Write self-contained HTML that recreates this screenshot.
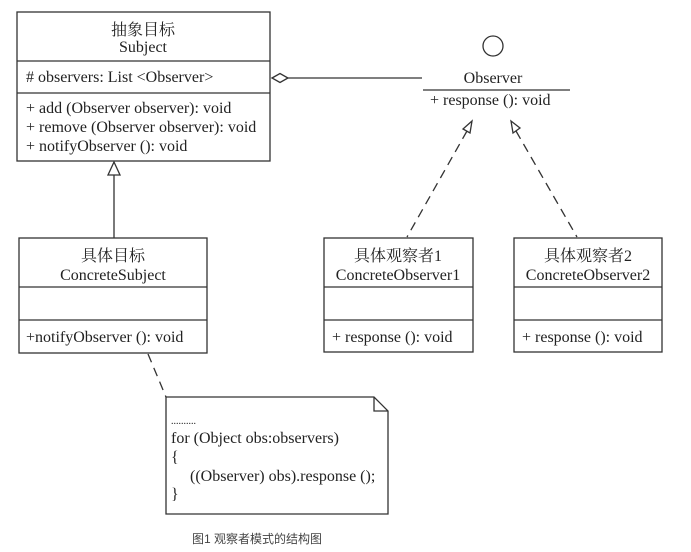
<!DOCTYPE html>
<html><head><meta charset="utf-8"><style>
html,body{margin:0;padding:0;background:#fff;}
svg{display:block;}
text{font-family:"Liberation Serif","Noto Serif CJK SC",serif;font-size:16px;fill:#222;}
.c{text-anchor:middle;}
</style></head><body>
<svg width="691" height="552" viewBox="0 0 691 552" xmlns="http://www.w3.org/2000/svg">
<g fill="none" stroke="#333" stroke-width="1.3">
<rect x="17" y="12" width="253" height="149"/>
<line x1="17" y1="61" x2="270" y2="61"/>
<line x1="17" y1="93" x2="270" y2="93"/>
<polygon points="272,78 280,73.5 288,78 280,82.5" fill="#fff"/>
<line x1="288" y1="78" x2="422" y2="78"/>
<circle cx="493" cy="46" r="10"/>
<line x1="423" y1="90" x2="570" y2="90"/>
<rect x="19" y="238" width="188" height="115"/>
<line x1="19" y1="287" x2="207" y2="287"/>
<line x1="19" y1="320" x2="207" y2="320"/>
<polygon points="114,162 108,175 120,175" fill="#fff"/>
<line x1="114" y1="175" x2="114" y2="238"/>
<rect x="324" y="238" width="149" height="114"/>
<line x1="324" y1="287" x2="473" y2="287"/>
<line x1="324" y1="320" x2="473" y2="320"/>
<rect x="514" y="238" width="148" height="114"/>
<line x1="514" y1="287" x2="662" y2="287"/>
<line x1="514" y1="320" x2="662" y2="320"/>
<polygon points="472,121 463,129 470,133" fill="#fff"/>
<line x1="467" y1="131" x2="407" y2="237" stroke-dasharray="9,6"/>
<polygon points="511,121 513,133 520,128" fill="#fff"/>
<line x1="516" y1="131" x2="577" y2="237" stroke-dasharray="9,6"/>
<line x1="148" y1="354" x2="166" y2="397" stroke-dasharray="9,6"/>
<path d="M166,397 H374 L388,411 V514 H166 Z"/>
<path d="M374,397 V411 H388"/>
</g>
<text class="c" x="143" y="35">抽象目标</text>
<text class="c" x="143" y="52">Subject</text>
<text x="26" y="82"># observers: List &lt;Observer&gt;</text>
<text x="26" y="113">+ add (Observer observer): void</text>
<text x="26" y="132">+ remove (Observer observer): void</text>
<text x="26" y="151">+ notifyObserver (): void</text>
<text class="c" x="493" y="83">Observer</text>
<text x="430" y="105">+ response (): void</text>
<text class="c" x="113" y="261">具体目标</text>
<text class="c" x="113" y="280">ConcreteSubject</text>
<text x="26" y="342">+notifyObserver (): void</text>
<text class="c" x="398" y="261">具体观察者1</text>
<text class="c" x="398" y="280">ConcreteObserver1</text>
<text x="332" y="342">+ response (): void</text>
<text class="c" x="588" y="261">具体观察者2</text>
<text class="c" x="588" y="280">ConcreteObserver2</text>
<text x="522" y="342">+ response (): void</text>
<text x="171" y="424" style="font-size:10px">..........</text>
<text x="171" y="443">for (Object obs:observers)</text>
<text x="171" y="462">{</text>
<text x="190" y="481">((Observer) obs).response ();</text>
<text x="171" y="499">}</text>
<text class="c" x="257" y="543" style="font-family:'Liberation Sans','Noto Sans CJK SC',sans-serif;font-size:12px;fill:#444">图1 观察者模式的结构图</text>
</svg>
</body></html>
